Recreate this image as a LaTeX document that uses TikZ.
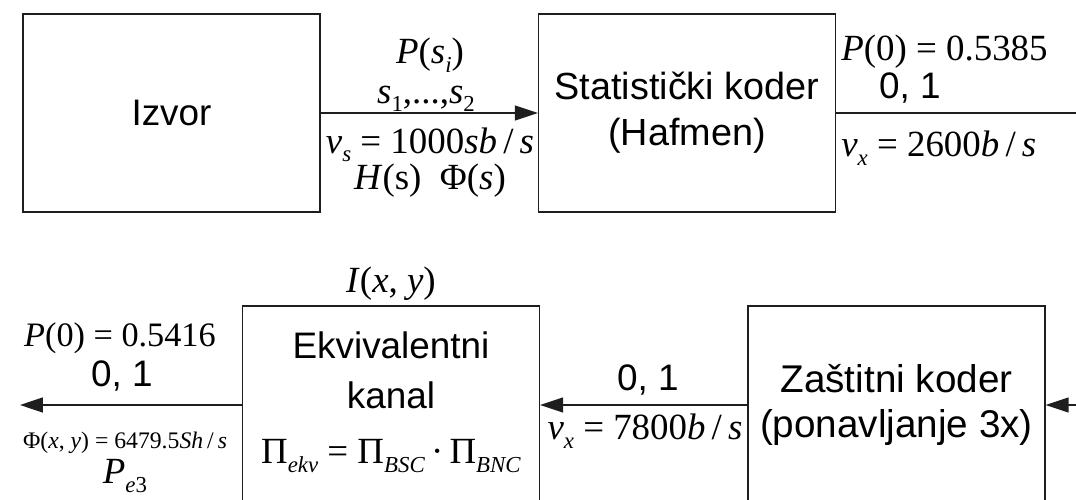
\documentclass[tikz,border=0pt]{standalone}
\usepackage{fontspec}
\setmainfont{Liberation Sans}
\newfontfamily\tms{Liberation Serif}
\usetikzlibrary{positioning, arrows.meta}
\definecolor{ink}{HTML}{1e1e1e}

\newcommand{\mi}[1]{\textit{#1}}
\newcommand{\lo}[1]{\raisebox{-0.5ex}{\fontsize{13}{13}\selectfont #1}}
\newcommand{\lbl}{\fontsize{21}{24}\selectfont}
\newcommand{\sml}{\fontsize{13.5}{16}\selectfont}

\begin{document}
\begin{tikzpicture}[x=0.02cm, y=-0.02cm, font=\lbl,
  blok/.style={draw=ink, line width=0.8pt, minimum width=5.94cm, minimum height=3.96cm,
               inner sep=0pt, align=center},
  arr/.style={draw=ink, line width=0.8pt, -{Triangle[length=13pt, width=8.5pt]}},
  wire/.style={draw=ink, line width=0.8pt},
  mth/.style={font=\lbl\tms, inner sep=0pt}]
  \useasboundingbox (0,0) rectangle (1076,500);

  % Blocks
  \node[blok] (izvor) at (171.5,113) {Izvor};
  \node[blok, font=\fontsize{21.5}{26}\selectfont] (stat) at (687,113) {Statistički koder\\(Hafmen)};
  \node[blok] (ekv)   at (391,405)   {};
  \node[blok, font=\fontsize{22}{26}\selectfont] (zast) at (896.5,405) {Zaštitni koder\\(ponavljanje 3x)};
  \node (ekvA) at (391,345) {Ekvivalentni};
  \node (ekvB) at (391,395) {kanal};
  \node[mth] (pekv) at (391,456) {Π\lo{\mi{ekv}} = Π\lo{\mi{BSC}}\,·\,Π\lo{\mi{BNC}}};

  % Free ends
  \coordinate (outR) at (1076,113);
  \coordinate (inR)  at (1076,405);
  \coordinate (outL) at (20,405);

  % Connectors
  \draw[arr]  (izvor.east) -- (stat.west);
  \draw[wire] (stat.east) -- (outR);
  \draw[arr]  (inR) -- (zast.east);
  \draw[arr]  (zast.west) -- (ekv.east);
  \draw[arr]  (ekv.west) -- (outL);

  % Source labels
  \node[mth] (psi)  at (430,55)  {\mi{P}(\mi{s}\lo{\mi{i}})};
  \node[mth] (sset) at (426,99)  {\mi{s}\lo{1},...,\mi{s}\lo{2}};
  \node[mth] (vs)   at (430,145) {\mi{v}\lo{\mi{s}} = 1000\mi{sb}\,/\,\mi{s}};
  \node[mth] (hs)   at (430,181) {\mi{H}(s)\enspace Φ(\mi{s})};

  % Huffman output labels
  \node[mth, anchor=west] (p0a) at (841,52)  {\mi{P}(0) = 0.5385};
  \node[inner sep=0pt]    (b0a) at (910,88)  {0, 1};
  \node[mth, anchor=west] (vxa) at (841,148) {\mi{v}\lo{\mi{x}} = 2600\mi{b}\,/\,\mi{s}};

  % Channel labels
  \node[mth] (ixy) at (391,284) {\mi{I}(\mi{x}, \mi{y})};
  \node[inner sep=0pt] (b0b) at (648,380) {0, 1};
  \node[mth] (vxb) at (645,431) {\mi{v}\lo{\mi{x}} = 7800\mi{b}\,/\,\mi{s}};

  % Output labels
  \node[mth, font=\fontsize{19.5}{22}\selectfont\tms] (p0b) at (120,338) {\mi{P}(0) = 0.5416};
  \node[inner sep=0pt] (b0c) at (122,376) {0, 1};
  \node[mth, font=\sml\tms] (phi) at (125,443) {Φ(\mi{x}, \mi{y}) = 6479.5\mi{Sh}\,/\,\mi{s}};
  \node[mth] (pe3) at (125,476) {\mi{P}\lo{\mi{e}3}};
\end{tikzpicture}
\end{document}
